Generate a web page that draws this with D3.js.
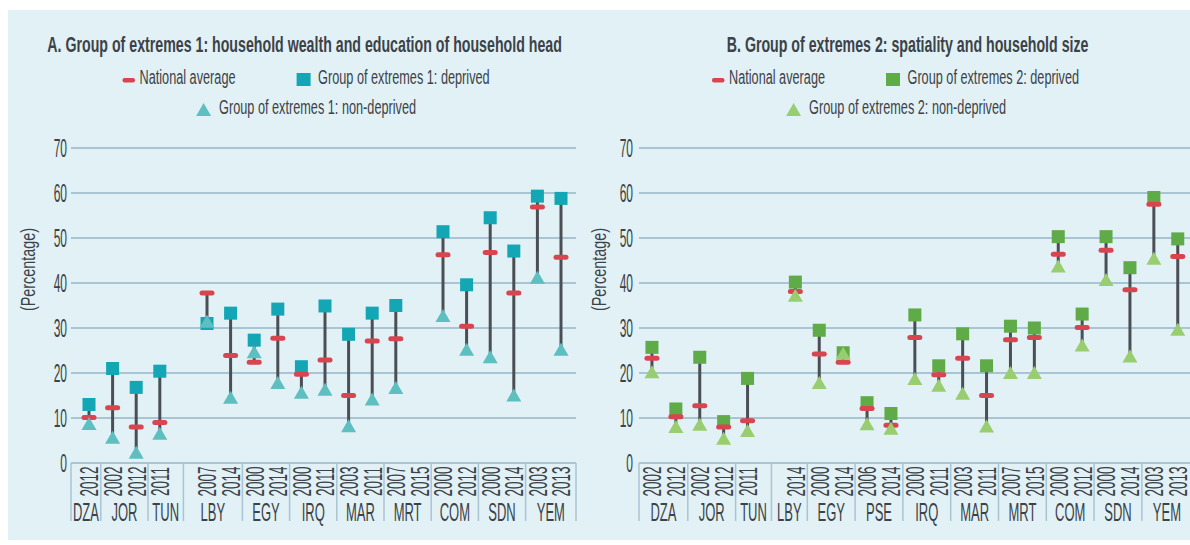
<!DOCTYPE html>
<html lang="en">
  <head>
    <meta charset="UTF-8" />
    <script src="https://cdn.jsdelivr.net/npm/d3@7"></script>
    <style>
      body { margin: 0; background: #fff; }
      text { font-family: "Liberation Sans", Arial, sans-serif; fill: #3c4248; }
    </style>
    <title>Groups of extremes</title>
  </head>
  <body>
    <div id="chart"></div>
    <script>
      // ---- data ----
      // panel A: household wealth and education of household head
      var groupsA = ["DZA", "JOR", "TUN", "LBY", "EGY", "IRQ", "MAR", "MRT", "COM", "SDN", "YEM"];
      var yearsA = [["2012"], ["2002", "2012"], ["2011"], ["2007", "2014"], ["2000", "2014"], ["2000", "2011"],
                    ["2003", "2011"], ["2007", "2015"], ["2000", "2012"], ["2000", "2014"], ["2003", "2013"]];
      var natA = [10.1, 12.3, 8.0, 9.0, 37.8, 23.9, 22.4, 27.7, 19.7, 22.9, 15.0, 27.1, 27.6, null, 46.3, 30.4, 46.8, 37.8, 56.9, 45.7];
      var depA = [13.0, 21.0, 16.8, 20.4, 31.0, 33.3, 27.3, 34.2, 21.4, 34.9, 28.6, 33.3, 35.0, null, 51.4, 39.6, 54.5, 47.1, 59.3, 58.8];
      var nonA = [8.8, 5.7, 2.4, 6.6, 31.5, 14.6, 24.7, 17.9, 15.7, 16.4, 8.3, 14.2, 16.8, null, 32.8, 25.3, 23.6, 15.1, 41.3, 25.3];

      // panel B: spatiality and household size
      var groupsB = ["DZA", "JOR", "TUN", "LBY", "EGY", "PSE", "IRQ", "MAR", "MRT", "COM", "SDN", "YEM"];
      var yearsB = [["2002", "2012"], ["2002", "2012"], ["2011"], ["2014"], ["2000", "2014"], ["2006", "2014"],
                    ["2000", "2011"], ["2003", "2011"], ["2007", "2015"], ["2000", "2012"], ["2000", "2014"], ["2003", "2013"]];
      var natB = [23.3, 10.3, 12.7, 8.0, 9.4, 38.1, 24.2, 22.4, 12.1, 8.4, 27.9, 19.6, 23.3, 15.0, 27.4, 27.9, 46.4, 30.1, 47.3, 38.5, 57.5, 45.9];
      var depB = [25.7, 12.0, 23.5, 9.2, 18.8, 40.2, 29.5, 24.5, 13.4, 11.0, 32.9, 21.6, 28.7, 21.6, 30.4, 30.0, 50.3, 33.1, 50.3, 43.4, 59.0, 49.8];
      var nonB = [20.3, 8.1, 8.6, 5.5, 7.2, 37.3, 17.9, 24.4, 8.7, 7.7, 18.8, 17.3, 15.5, 8.2, 20.1, 20.1, 43.8, 26.2, 40.8, 23.8, 45.5, 29.7];

      var yTicks = [0, 10, 20, 30, 40, 50, 60, 70];

      var svg = d3.select("#chart").append("svg").attr("width", 1190).attr("height", 545);
      svg.append("rect").attr("x", 8).attr("y", 10).attr("width", 1190).attr("height", 530).attr("fill", "#e1f1f6");

      var gridColor = "#a9c4d3";
      var y = d3.scaleLinear().domain([0, 70]).range([463, 148]);

      // squeezed text helper (the original uses a condensed face)
      function txt(g, s, x, yy, o) {
        o = o || {};
        var t = g.append("text")
          .attr("transform", "translate(" + x + "," + yy + ")" + (o.rot ? " rotate(" + o.rot + ")" : "") + " scale(" + (o.sx || 0.5) + ",1)")
          .attr("text-anchor", o.anchor || "start")
          .style("font-size", (o.size || 20) + "px")
          .text(s);
        if (o.dy) t.attr("dy", o.dy);
        if (o.bold) t.style("font-weight", "bold");
        return t;
      }

      function triPath(cx, cy, w, h) {
        return "M" + (cx - w / 2) + "," + (cy + h / 2) + "L" + cx + "," + (cy - h / 2) + "L" + (cx + w / 2) + "," + (cy + h / 2) + "Z";
      }

      function drawPanel(cfg) {
        var g = svg.append("g");

        // slots, with one empty slot after TUN as in the original
        var slots = [];
        cfg.groups.forEach(function (c, i) {
          cfg.years[i].forEach(function (yr) { slots.push({ c: c, yr: yr, k: c + yr }); });
          if (c === "TUN") slots.push({ c: null, yr: "", k: "gap" });
        });
        var x = d3.scaleBand().domain(slots.map(function (s) { return s.k; })).range(cfg.band);
        var cx = function (k) { return x(k) + x.bandwidth() / 2; };

        var pts = slots.filter(function (s) { return s.c; });
        pts.forEach(function (s, i) { s.nat = cfg.nat[i]; s.dep = cfg.dep[i]; s.non = cfg.non[i]; });

        // grid
        g.selectAll(".grid").data(yTicks).enter().append("line")
          .attr("x1", cfg.plot[0]).attr("x2", cfg.plot[1])
          .attr("y1", function (d) { return y(d); }).attr("y2", function (d) { return y(d); })
          .attr("stroke", gridColor).attr("stroke-width", 1.8);

        yTicks.forEach(function (t) {
          txt(g, t, cfg.tickX, y(t), { anchor: "end", size: 25, sx: 0.48, dy: "0.36em" });
        });
        txt(g, "(Percentage)", cfg.ylabX, 269.5, { anchor: "middle", size: 20, sx: 0.72, rot: -90, dy: "0.35em" });

        // category axis: separators between country groups
        var seps = [cfg.plot[0]];
        for (var i = 0; i < cfg.groups.length - 1; i++) {
          var a = cfg.groups[i], b = cfg.groups[i + 1];
          var last = cx(a + cfg.years[i][cfg.years[i].length - 1]);
          var first = cx(b + cfg.years[i + 1][0]);
          seps.push((last + first) / 2);
        }
        seps.push(cfg.plot[1]);
        g.selectAll(".sep").data(seps).enter().append("line")
          .attr("x1", function (d) { return d; }).attr("x2", function (d) { return d; })
          .attr("y1", 463).attr("y2", 521)
          .attr("stroke", gridColor).attr("stroke-width", 1.5);

        pts.forEach(function (s) {
          txt(g, s.yr, cx(s.k), 481.5, { anchor: "middle", size: 26, sx: 0.52, rot: -90, dy: "0.36em" });
        });
        cfg.groups.forEach(function (c, i) {
          txt(g, c, (seps[i] + seps[i + 1]) / 2, 520.5, { anchor: "middle", size: 26, sx: 0.5 });
        });

        var marks = pts.filter(function (s) { return s.nat != null; });

        // range lines
        g.selectAll(".rng").data(marks).enter().append("line")
          .attr("x1", function (d) { return cx(d.k); }).attr("x2", function (d) { return cx(d.k); })
          .attr("y1", function (d) { return y(Math.max(d.nat, d.dep, d.non)); })
          .attr("y2", function (d) { return y(Math.min(d.nat, d.dep, d.non)); })
          .attr("stroke", "#4a4f55").attr("stroke-width", 3);

        // deprived squares
        g.selectAll(".sq").data(marks).enter().append("rect")
          .attr("x", function (d) { return cx(d.k) - 6.5; })
          .attr("y", function (d) { return y(d.dep) - 6.5; })
          .attr("width", 13).attr("height", 13)
          .attr("fill", cfg.sqColor);

        // national average dashes
        g.selectAll(".dash").data(marks).enter().append("rect")
          .attr("x", function (d) { return cx(d.k) - 7.5; })
          .attr("y", function (d) { return y(d.nat) - 2.5; })
          .attr("width", 15).attr("height", 5).attr("rx", 2.5)
          .attr("fill", "#d9454f");

        // non-deprived triangles
        g.selectAll(".tri").data(marks).enter().append("path")
          .attr("d", function (d) { return triPath(cx(d.k), y(d.non), 15, 13); })
          .attr("fill", cfg.triColor);

        // title and legend
        txt(g, cfg.title, cfg.titleX, 51.7, { anchor: "middle", size: 22, sx: 0.645, bold: true });
        var L = cfg.legend;
        g.append("rect").attr("x", L.dash).attr("y", 78).attr("width", 12.5).attr("height", 4.5).attr("rx", 2).attr("fill", "#d9454f");
        txt(g, "National average", L.dash + 17, 84, { size: 20, sx: 0.635 });
        g.append("rect").attr("x", L.sq).attr("y", 73).attr("width", 14).attr("height", 13).attr("fill", cfg.sqColor);
        txt(g, cfg.depLabel, L.sq + 21.5, 84, { size: 20, sx: 0.635 });
        g.append("path").attr("d", triPath(L.tri, 109.5, 15, 13)).attr("fill", cfg.triColor);
        txt(g, cfg.nonLabel, L.tri + 15.5, 114, { size: 20, sx: 0.635 });
      }

      drawPanel({
        groups: groupsA, years: yearsA, nat: natA, dep: depA, non: nonA,
        band: [77.2, 572.8], plot: [71, 576], tickX: 67, ylabX: 28,
        sqColor: "#13a7b6", triColor: "#5dbfc0",
        title: "A. Group of extremes 1: household wealth and education of household head", titleX: 304.6,
        depLabel: "Group of extremes 1: deprived", nonLabel: "Group of extremes 1: non-deprived",
        legend: { dash: 122.5, sq: 296.6, tri: 203.6 }
      });

      drawPanel({
        groups: groupsB, years: yearsB, nat: natB, dep: depB, non: nonB,
        band: [640, 1189.7], plot: [639, 1192], tickX: 633, ylabX: 599,
        sqColor: "#5eab47", triColor: "#98ce70",
        title: "B. Group of extremes 2: spatiality and household size", titleX: 907.6,
        depLabel: "Group of extremes 2: deprived", nonLabel: "Group of extremes 2: non-deprived",
        legend: { dash: 712, sq: 886, tri: 793.6 }
      });
    </script>
  </body>
</html>
